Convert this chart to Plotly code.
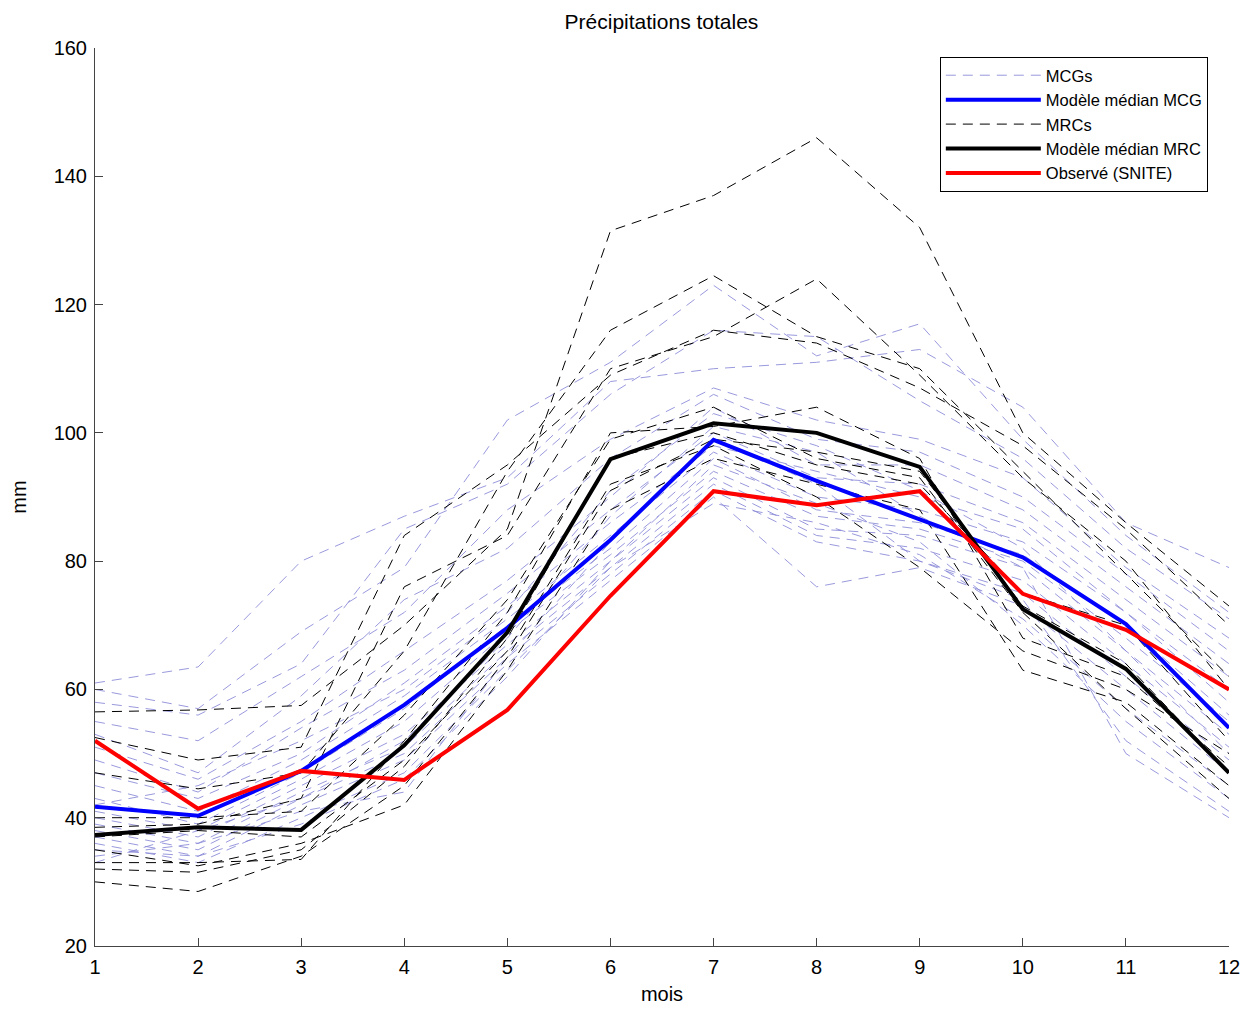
import plotly.graph_objects as go

months = list(range(1, 13))

# Modèle médian MCG (blue)
median_mcg = [41.7, 40.3, 47.3, 57.6, 69.6, 83.3, 98.9, 92.5, 86.5, 80.6, 70.2, 54.0]
# Modèle médian MRC (black)
median_mrc = [37.3, 38.5, 38.1, 51.3, 68.9, 95.9, 101.5, 100.0, 94.7, 72.5, 63.2, 47.0]
# Observé (SNITE) (red)
observed = [52.0, 41.4, 47.3, 45.9, 56.8, 74.6, 90.9, 88.7, 90.9, 74.9, 69.3, 60.0]

# MRCs (black dashed)
mrc_runs = [
    [56.5, 56.8, 57.5, 70, 85, 131.5, 137, 146, 132, 100, 86, 73],
    [47, 44.5, 47, 66, 94, 116, 124.5, 115, 110, 94, 78, 62],
    [38.5, 39, 43, 76, 84, 110, 115, 124, 109, 93, 80, 60],
    [33, 33, 33.5, 52, 72, 100, 101, 104, 96, 68, 62, 48],
    [30, 28.5, 34, 45, 65, 91, 99, 97, 94, 73, 64, 47],
    [35, 32.5, 36, 42, 63, 88, 96, 92, 88, 63, 58, 45],
    [52.5, 49, 51, 84, 95, 109, 116, 114, 107, 98, 85, 70],
    [37, 38, 37, 49, 66, 92, 98, 90, 79, 66, 60, 50],
    [32, 31.5, 35, 48, 68, 96, 100, 95, 92, 75, 70, 52],
    [40, 40, 41, 56, 74, 99, 104, 96, 93, 72, 57, 43],
]

# MCGs (light blue dashed)
mcg_runs = [
    [61, 63.5, 80, 87, 93, 108, 110, 111, 113, 104, 86, 79],
    [60, 57, 69, 79, 102, 111, 123, 112, 117, 99, 84, 72],
    [58, 56, 64, 85, 92, 106, 116, 115, 105, 96, 82, 71],
    [55, 52, 62, 72, 88, 99, 107, 102, 99, 93, 79, 68],
    [53, 47, 59, 74, 82, 96, 106, 99, 97, 90, 78, 66],
    [51, 46, 55, 66, 77, 90, 104, 95, 95, 88, 76, 64],
    [49, 44, 54, 63, 75, 88, 100, 93, 92, 86, 74, 62],
    [47, 43, 50, 61, 73, 86, 98, 94, 90, 85, 72, 60],
    [45, 41, 49, 59, 71, 84, 97, 90, 88, 83, 72, 58],
    [43, 39, 47, 57, 70, 82, 96, 88, 86, 81, 70, 56],
    [41, 38, 46, 55, 69, 81, 94, 87, 85, 80, 68, 55],
    [40, 37, 45, 53, 67, 80, 93, 85, 84, 79, 66, 53],
    [39, 36, 44, 51, 66, 79, 92, 84, 82, 77, 64, 51],
    [38, 35, 43, 50, 65, 78, 91, 83, 80, 75, 62, 49],
    [37, 34, 42, 49, 64, 77, 90, 76, 79, 73, 60, 47],
    [36, 33, 40, 47, 63, 79, 89, 86, 81, 71, 57, 45],
    [35, 34, 39, 46, 62, 80, 95, 89, 83, 70, 55, 43],
    [34, 36, 41, 44, 65, 83, 99, 92, 80, 74, 52, 41],
    [33, 38, 43, 52, 68, 87, 101, 97, 87, 79, 50, 40],
    [42, 45, 52, 60, 72, 91, 103, 98, 91, 82, 66, 50],
]

x_ticks = months
y_ticks = [20, 40, 60, 80, 100, 120, 140, 160]

MCG_COLOR = "rgba(135,135,215,0.85)"
DASH = "10px,7px"

fig = go.Figure()

for i, run in enumerate(mcg_runs):
    fig.add_trace(go.Scatter(
        x=months, y=run, mode="lines", name="MCGs", legendgroup="mcg",
        showlegend=(i == 0), legendrank=1,
        line=dict(color=MCG_COLOR, width=1, dash=DASH), hoverinfo="skip"))

for i, run in enumerate(mrc_runs):
    fig.add_trace(go.Scatter(
        x=months, y=run, mode="lines", name="MRCs", legendgroup="mrc",
        showlegend=(i == 0), legendrank=3,
        line=dict(color="black", width=1, dash=DASH), hoverinfo="skip"))

fig.add_trace(go.Scatter(x=months, y=median_mcg, mode="lines", name="Modèle médian MCG",
                         legendrank=2, line=dict(color="#0000ff", width=4)))
fig.add_trace(go.Scatter(x=months, y=median_mrc, mode="lines", name="Modèle médian MRC",
                         legendrank=4, line=dict(color="black", width=4)))
fig.add_trace(go.Scatter(x=months, y=observed, mode="lines", name="Observé (SNITE)",
                         legendrank=5, line=dict(color="#ff0000", width=4)))

FONT = "Liberation Sans, Arial, Helvetica, sans-serif"

fig.update_layout(
    width=1240, height=997,
    paper_bgcolor="white", plot_bgcolor="white",
    margin=dict(l=87, r=19, t=40, b=59),
    font=dict(family=FONT, size=20, color="black"),
    title=dict(text="Précipitations totales", x=0.527, xanchor="center",
               y=0.986, yanchor="middle", font=dict(size=21)),
    xaxis=dict(range=[1, 12], tickvals=x_ticks, ticks="inside", ticklen=8,
               showline=True, linecolor="#444", linewidth=1, tickcolor="#444",
               showgrid=False, zeroline=False, ticklabelstandoff=3, automargin=False,
               title=dict(text="mois", standoff=15, font=dict(size=20))),
    yaxis=dict(range=[20, 160], tickvals=y_ticks, ticks="inside", ticklen=8,
               showline=True, linecolor="#444", linewidth=1, tickcolor="#444",
               showgrid=False, zeroline=False, ticklabelstandoff=3, automargin=False,
               title=dict(text="mm", standoff=22, font=dict(size=20))),
    legend=dict(x=0.745, y=0.990, xanchor="left", yanchor="top",
                bgcolor="white", bordercolor="black", borderwidth=1,
                font=dict(size=16.5), itemwidth=95, tracegroupgap=0,
                traceorder="normal"),
)

fig.write_html("out.html")
